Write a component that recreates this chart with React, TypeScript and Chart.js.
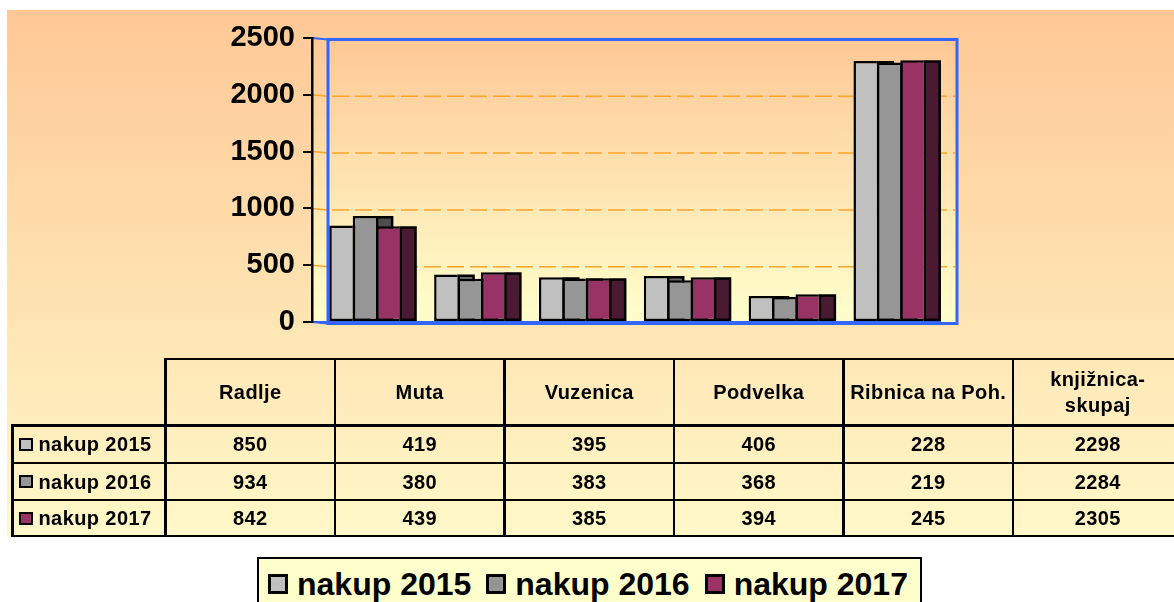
import React, { useEffect, useRef } from 'react';
import { Chart, registerables } from 'chart.js';

Chart.register(...registerables);

// ---------- data ----------
const categories = ['Radlje', 'Muta', 'Vuzenica', 'Podvelka', 'Ribnica na Poh.', 'knjižnica-skupaj'];
const seriesNames = ['nakup 2015', 'nakup 2016', 'nakup 2017'];
const nakup2015 = [850, 419, 395, 406, 228, 2298];
const nakup2016 = [934, 380, 383, 368, 219, 2284];
const nakup2017 = [842, 439, 385, 394, 245, 2305];
const yTicks = [0, 500, 1000, 1500, 2000, 2500];

const seriesValues = [nakup2015, nakup2016, nakup2017];
const frontColors = ['#C0C0C0', '#969696', '#993366'];
const sideColors = ['#6A6A6A', '#4D4D4D', '#4A1A33'];

// ---------- layout constants ----------
const W = 1174;
const H = 602;
const DEPTH = 16;
const FONT = "'Liberation Sans', Arial, Helvetica, sans-serif";
const colX = [12.5, 165.5, 335, 504.5, 674, 843.5, 1013, 1182.5];
const rowY = [359, 425.5, 463, 500, 536];
const LINE = 2.5;

const wallPlugin = {
  id: 'wall',
  beforeDraw(chart: any) {
    const { ctx, chartArea: a, scales } = chart;
    const y = scales.y;
    ctx.save();
    const g = ctx.createLinearGradient(0, a.top, 0, a.bottom);
    g.addColorStop(0, '#FEC896');
    g.addColorStop(1, '#FFFFCC');
    ctx.fillStyle = g;
    ctx.fillRect(a.left, a.top, a.right + DEPTH - a.left, a.bottom - a.top + 1);

    // gridlines
    const maxV = yTicks[yTicks.length - 1];
    yTicks.forEach((v) => {
      if (v === 0 || v === maxV) return;
      const py = y.getPixelForValue(v);
      ctx.strokeStyle = '#FFA426';
      ctx.lineWidth = 1.5;
      ctx.setLineDash([]);
      ctx.beginPath();
      ctx.moveTo(a.left, py);
      ctx.lineTo(a.left + DEPTH, py + 1.5);
      ctx.stroke();
      ctx.setLineDash([17, 6]);
      ctx.beginPath();
      ctx.moveTo(a.left + DEPTH + 4, py + 1.5);
      ctx.lineTo(a.right + DEPTH - 2, py + 1.5);
      ctx.stroke();
    });
    ctx.setLineDash([]);

    // back wall box
    ctx.strokeStyle = '#3366FF';
    ctx.lineWidth = 3;
    ctx.strokeRect(a.left + DEPTH, a.top + 1.5, a.right - a.left, a.bottom - a.top);
    ctx.lineWidth = 2;
    ctx.beginPath();
    ctx.moveTo(a.left, a.top);
    ctx.lineTo(a.left + DEPTH, a.top + 1.5);
    ctx.moveTo(a.left, a.bottom);
    ctx.lineTo(a.left + DEPTH, a.bottom + 1.5);
    ctx.moveTo(a.left, a.bottom);
    ctx.lineTo(a.right, a.bottom);
    ctx.stroke();
    ctx.restore();
  },
};

const sidePlugin = {
  id: 'sides',
  beforeDatasetsDraw(chart: any) {
    const { ctx } = chart;
    ctx.save();
    chart.data.datasets.forEach((_: any, i: number) => {
      const meta = chart.getDatasetMeta(i);
      meta.data.forEach((bar: any) => {
        const { x, y, base, width } = bar.getProps(['x', 'y', 'base', 'width'], true);
        const r = x + width / 2;
        ctx.fillStyle = sideColors[i];
        ctx.strokeStyle = '#000';
        ctx.lineWidth = 2.5;
        ctx.beginPath();
        ctx.rect(r + 1, y + 1.25, DEPTH - 1, base - y - 2.5);
        ctx.fill();
        ctx.stroke();
      });
    });
    ctx.restore();
  },
};

function ChartCanvas() {
  const ref = useRef<HTMLCanvasElement | null>(null);
  useEffect(() => {
    if (!ref.current) return;
    const chart = new Chart(ref.current, {
      type: 'bar',
      data: {
        labels: categories,
        datasets: seriesNames.map((name, i) => ({
          label: name,
          data: seriesValues[i],
          backgroundColor: frontColors[i],
          borderColor: '#000000',
          borderWidth: { left: 2.5, top: 2.5, right: 0, bottom: 2.5 },
          borderSkipped: false,
          barPercentage: 1,
          categoryPercentage: 0.67,
          inflateAmount: 0,
        })),
      },
      options: {
        responsive: false,
        animation: false,
        layout: { padding: { left: 0, top: 38, right: 233, bottom: 280 } },
        plugins: { legend: { display: false }, tooltip: { enabled: false } },
        scales: {
          x: { display: false },
          y: {
            min: 0,
            max: 2500,
            afterBuildTicks: (s: any) => {
              s.ticks = yTicks.map((v) => ({ value: v }));
            },
            afterFit: (s: any) => {
              s.width = 312;
            },
            ticks: {
              color: '#000',
              padding: 8,
              font: { family: FONT, size: 29, weight: 'bold' },
              callback: (v: any) => String(v),
            },
            grid: { drawOnChartArea: false, drawTicks: true, tickLength: 9, color: '#000', lineWidth: 2 },
            border: { color: '#000', width: 2.5 },
          },
        },
      } as any,
      plugins: [wallPlugin, sidePlugin],
    });
    return () => chart.destroy();
  }, []);
  return (
    <canvas
      ref={ref}
      width={W}
      height={H}
      style={{ position: 'absolute', left: 0, top: 0, width: W, height: H }}
    />
  );
}

const cellText: React.CSSProperties = {
  position: 'absolute',
  display: 'flex',
  alignItems: 'center',
  justifyContent: 'center',
  textAlign: 'center',
  fontFamily: FONT,
  fontWeight: 'bold',
  fontSize: 20,
  letterSpacing: '0.4px',
  color: '#000',
  boxSizing: 'border-box',
  padding: '0 6px',
  lineHeight: '26px',
};

function DataTable() {
  const els: React.ReactNode[] = [];
  // header cells
  categories.forEach((c, j) => {
    els.push(
      <div
        key={'h' + j}
        style={{
          ...cellText,
          left: colX[j + 1],
          top: rowY[0],
          width: colX[j + 2] - colX[j + 1],
          height: rowY[1] - rowY[0],
        }}
      >
        {c}
      </div>
    );
  });
  // rows
  seriesNames.forEach((name, i) => {
    els.push(
      <div
        key={'l' + i}
        style={{
          ...cellText,
          justifyContent: 'flex-start',
          left: colX[0],
          top: rowY[i + 1],
          width: colX[1] - colX[0],
          height: rowY[i + 2] - rowY[i + 1],
          padding: '0 0 0 6px',
        }}
      >
        <span
          style={{
            display: 'inline-block',
            width: 14,
            height: 13,
            boxSizing: 'border-box',
            border: '2.5px solid #000',
            background: frontColors[i],
            marginRight: 6,
          }}
        />
        {name}
      </div>
    );
    seriesValues[i].forEach((v, j) => {
      els.push(
        <div
          key={'v' + i + '-' + j}
          style={{
            ...cellText,
            left: colX[j + 1],
            top: rowY[i + 1],
            width: colX[j + 2] - colX[j + 1],
            height: rowY[i + 2] - rowY[i + 1],
          }}
        >
          {v}
        </div>
      );
    });
  });
  // horizontal lines
  rowY.forEach((yy, k) => {
    const x0 = k === 0 ? colX[1] : colX[0];
    els.push(
      <div
        key={'hl' + k}
        style={{
          position: 'absolute',
          left: x0 - LINE / 2,
          top: yy - LINE / 2,
          width: colX[colX.length - 1] - x0 + LINE,
          height: LINE,
          background: '#000',
        }}
      />
    );
  });
  // vertical lines
  colX.forEach((xx, k) => {
    const y0 = k === 0 ? rowY[1] : rowY[0];
    els.push(
      <div
        key={'vl' + k}
        style={{
          position: 'absolute',
          left: xx - LINE / 2,
          top: y0 - LINE / 2,
          width: LINE,
          height: rowY[rowY.length - 1] - y0 + LINE,
          background: '#000',
        }}
      />
    );
  });
  return <>{els}</>;
}

function Legend() {
  return (
    <div
      style={{
        position: 'absolute',
        left: 257,
        top: 557,
        width: 665,
        height: 70,
        boxSizing: 'border-box',
        border: '2.5px solid #000',
        background: '#FFFFCC',
      }}
    >
      <div
        style={{
          position: 'absolute',
          left: 9,
          top: 6,
          height: 38,
          display: 'flex',
          alignItems: 'center',
          gap: 15,
          whiteSpace: 'nowrap',
        }}
      >
        {seriesNames.map((name, i) => (
          <div key={name} style={{ display: 'flex', alignItems: 'center' }}>
            <span
              style={{
                display: 'inline-block',
                width: 20,
                height: 20,
                boxSizing: 'border-box',
                border: '3px solid #000',
                background: frontColors[i],
                marginRight: 9,
              }}
            />
            <span
              style={{
                fontFamily: FONT,
                fontWeight: 'bold',
                fontSize: 32,
                lineHeight: '38px',
                color: '#000',
              }}
            >
              {name}
            </span>
          </div>
        ))}
      </div>
    </div>
  );
}

export default function App() {
  return (
    <div
      style={{
        position: 'fixed',
        left: 0,
        top: 0,
        width: W,
        height: H,
        background: '#FFFFFF',
        overflow: 'hidden',
      }}
    >
      <div
        style={{
          position: 'absolute',
          left: 7,
          top: 10,
          width: W - 7,
          height: 527,
          background: 'linear-gradient(to bottom, #FEC896 0%, #FFF8C8 100%)',
        }}
      />
      <ChartCanvas />
      <DataTable />
      <Legend />
    </div>
  );
}
